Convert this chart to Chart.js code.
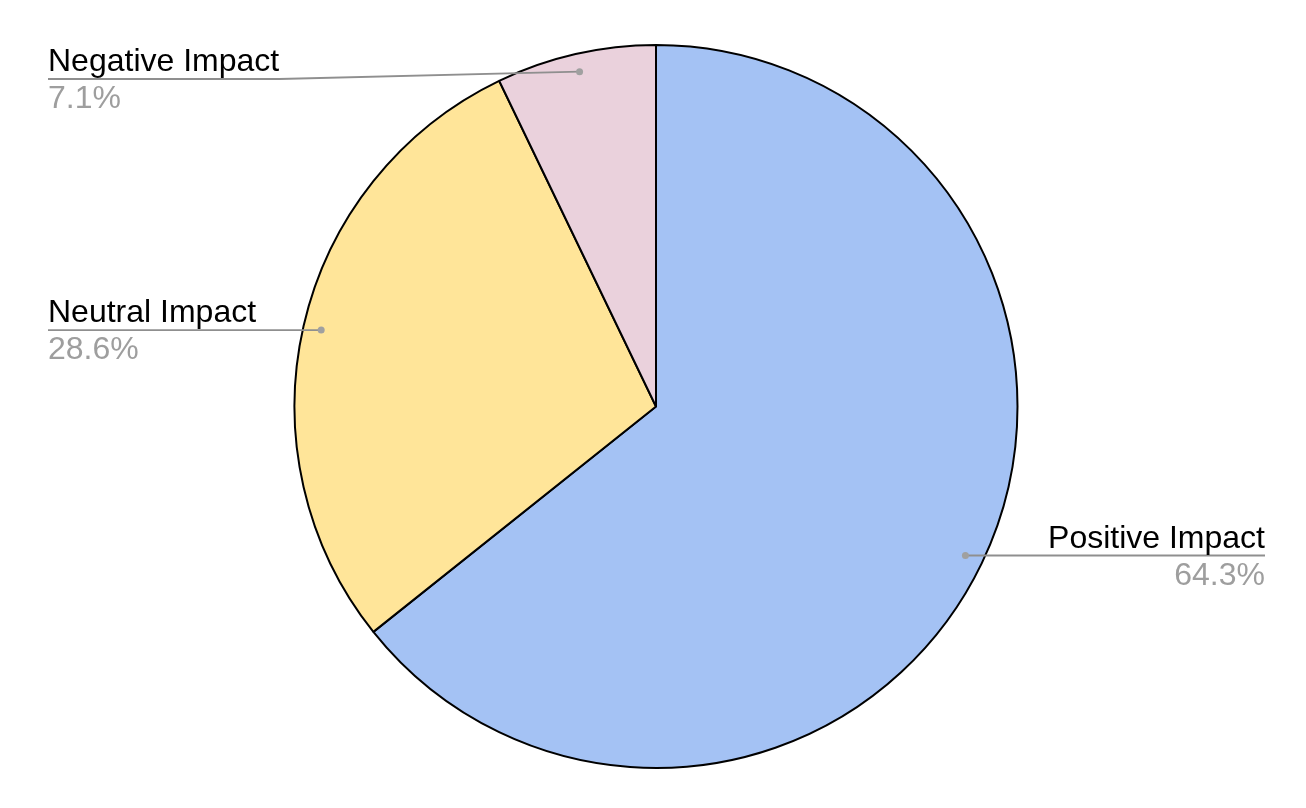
<!DOCTYPE html>
<html>
<head>
<meta charset="utf-8">
<script src="https://cdn.jsdelivr.net/npm/chart.js@4/dist/chart.umd.min.js"></script>
<style>
  html, body { margin: 0; padding: 0; background: #fff; }
  #wrap { width: 1306px; height: 808px; }
</style>
</head>
<body>
<div id="wrap"><canvas id="chart" width="1306" height="808"></canvas></div>
<script>
const labels = ["Positive Impact", "Neutral Impact", "Negative Impact"];
const counts = [9, 4, 1];
const sliceColors = ["#a4c2f4", "#ffe599", "#ead1dc"];

const FONT = "'Liberation Sans', Arial, sans-serif";

// draws the outside labels with leader lines
const calloutPlugin = {
    id: "callouts",
    afterDatasetsDraw(chart) {
        const ctx = chart.ctx;
        const meta = chart.getDatasetMeta(0);
        const total = counts.reduce((a, b) => a + b, 0);
        const leftX = 48;
        const rightX = 1265;

        meta.data.forEach((arc, i) => {
            const mid = (arc.startAngle + arc.endAngle) / 2;
            const r = arc.outerRadius * 0.95;
            const dotX = arc.x + Math.cos(mid) * r;
            const dotY = arc.y + Math.sin(mid) * r;
            const onLeft = Math.cos(mid) < 0;
            const lineY = Math.max(dotY, 79);
            const pct = (counts[i] / total * 100).toFixed(1) + "%";

            ctx.save();
            ctx.font = "32px " + FONT;
            const textW = ctx.measureText(labels[i]).width;

            ctx.strokeStyle = "#8f8f8f";
            ctx.lineWidth = 1.8;
            ctx.beginPath();
            ctx.moveTo(dotX, dotY);
            if (onLeft) {
                const bendX = leftX + textW;
                if (dotX > bendX && lineY !== dotY) ctx.lineTo(bendX, lineY);
                ctx.lineTo(leftX, lineY);
            } else {
                const bendX = rightX - textW;
                if (dotX < bendX && lineY !== dotY) ctx.lineTo(bendX, lineY);
                ctx.lineTo(rightX, lineY);
            }
            ctx.stroke();

            ctx.fillStyle = "#a0a0a0";
            ctx.beginPath();
            ctx.arc(dotX, dotY, 3.5, 0, Math.PI * 2);
            ctx.fill();

            ctx.textAlign = onLeft ? "left" : "right";
            ctx.textBaseline = "alphabetic";
            const tx = onLeft ? leftX : rightX;
            ctx.fillStyle = "#000000";
            ctx.fillText(labels[i], tx, lineY - 8);
            ctx.fillStyle = "#9e9e9e";
            ctx.fillText(pct, tx, lineY + 29);
            ctx.restore();
        });
    }
};

new Chart(document.getElementById("chart"), {
    type: "pie",
    data: {
        labels: labels,
        datasets: [{
            data: counts,
            backgroundColor: sliceColors,
            borderColor: "#000000",
            borderWidth: 2
        }]
    },
    options: {
        responsive: false,
        animation: false,
        layout: { padding: { left: 6, right: 0, top: 44, bottom: 39 } },
        plugins: {
            legend: { display: false },
            tooltip: { enabled: false }
        }
    },
    plugins: [calloutPlugin]
});
</script>
</body>
</html>
